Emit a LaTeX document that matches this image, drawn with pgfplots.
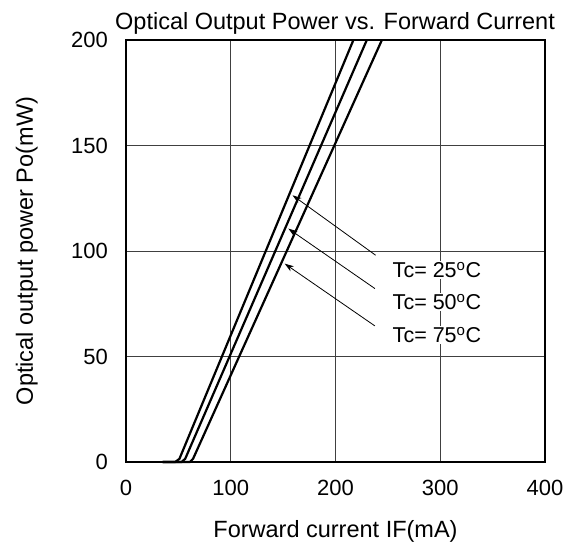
\documentclass[border=0pt]{standalone}
\usepackage{pgfplots}
\pgfplotsset{compat=1.18}
\usepackage{fontspec}
\setmainfont{Liberation Sans}
\usetikzlibrary{arrows.meta}
\newcommand\lf{\fontsize{23.5bp}{28bp}\selectfont}
\newcommand\tf{\fontsize{22bp}{26bp}\selectfont}
\newcommand\cf{\fontsize{21.5bp}{26bp}\selectfont}
\begin{document}
\begin{tikzpicture}
\path[use as bounding box] (-126bp,-88bp) rectangle (442bp,462bp);
\begin{axis}[
  at={(0,0)}, anchor=south west,
  scale only axis, width=419bp, height=422bp,
  xmin=0, xmax=400, ymin=0, ymax=200,
  xtick={0,100,200,300,400}, ytick={0,50,100,150,200},
  grid=major, major grid style={black!75, line width=0.9bp},
  axis line style={black, line width=1.6bp},
  major tick length=0pt,
  /pgf/number format/assume math mode=true,
  tick label style={font=\tf},
  yticklabel style={anchor=east, inner sep=0pt, xshift=-18bp},
  xticklabel style={anchor=north, inner sep=0pt, yshift=-18bp},
  clip=false,
  axis on top=false,
]
\addplot[black, line width=2.2bp] coordinates {(35,0) (47,0) (51,1.5) (217.1,200)};
\addplot[black, line width=2.2bp] coordinates {(35,0) (53,0) (56.5,1.5) (229.9,200)};
\addplot[black, line width=2.2bp] coordinates {(35,0) (61,0) (64,1.5) (244.3,200)};
\draw[black, line width=0.8bp, -{Stealth[length=9bp, width=6bp, inset=2.5bp]}] (axis cs:238.3,98.0) -- (axis cs:159,126.4);
\draw[black, line width=0.8bp, -{Stealth[length=9bp, width=6bp, inset=2.5bp]}] (axis cs:237.6,82.2) -- (axis cs:155,110.6);
\draw[black, line width=0.8bp, -{Stealth[length=9bp, width=6bp, inset=2.5bp]}] (axis cs:237.6,64.5) -- (axis cs:151.5,94.0);
\node[anchor=west, fill=white, inner sep=1bp, font=\cf] at (axis cs:253.5,90.9) {Tc= 25\textsuperscript{o}C};
\node[anchor=west, fill=white, inner sep=1bp, font=\cf] at (axis cs:253.5,75.7) {Tc= 50\textsuperscript{o}C};
\node[anchor=west, fill=white, inner sep=1bp, font=\cf] at (axis cs:253.5,60.1) {Tc= 75\textsuperscript{o}C};
\end{axis}
\node[anchor=base, font=\lf, inner sep=0pt] at (209bp,432bp) {Optical Output Power vs. Forward Current};
\node[anchor=base, font=\lf, inner sep=0pt] at (209.5bp,-75bp) {Forward current IF(mA)};
\node[anchor=base, rotate=90, font=\lf, inner sep=0pt] at (-93bp,211bp) {Optical output power Po(mW)};
\end{tikzpicture}
\end{document}
